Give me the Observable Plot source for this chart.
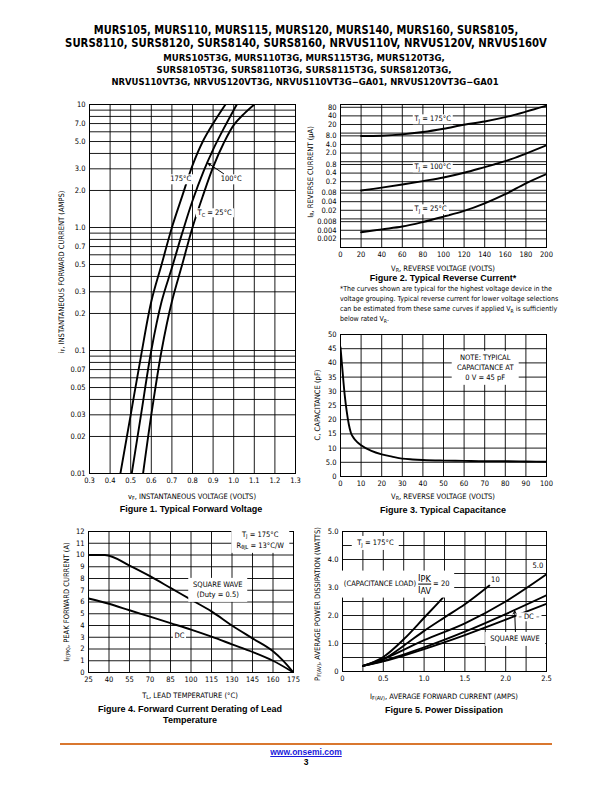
<!DOCTYPE html>
<html><head><meta charset="utf-8">
<script src="https://cdn.jsdelivr.net/npm/d3@7"></script>
<script src="https://cdn.jsdelivr.net/npm/@observablehq/plot@0.6"></script>
<style>
body{margin:0;background:#fff;}
#page{position:relative;width:612px;height:792px;overflow:hidden;background:#fff;color:#000;
 font-family:"DejaVu Sans Condensed","Liberation Sans",sans-serif;}
.abs{position:absolute;white-space:nowrap;}
.hdr1{font-weight:bold;font-size:11.5px;line-height:12px;}
.hdr2{font-weight:bold;font-size:9px;line-height:10px;}
.axl{font-size:7.5px;}
.cap{font-family:"Liberation Sans",Arial,sans-serif;font-weight:bold;font-size:9px;text-align:center;line-height:11px;}
.ann{background:#fff;font-size:7.5px;line-height:1.25;text-align:center;padding:0 2px;}
.box{background:#fff;font-size:7.5px;line-height:1.35;text-align:center;padding:2px 5px;}
.note{font-size:7px;line-height:10px;}
sub{font-size:72%;vertical-align:-0.3em;line-height:0;}
.frac{display:inline-flex;flex-direction:column;vertical-align:middle;text-align:left;font-size:9.5px;line-height:1.15;margin:0 2px;}
.frac span:first-child{border-bottom:1px solid #000;}
.frac sub{font-size:95%;vertical-align:-0.2em;}
.foot{font-family:"Liberation Sans",Arial,sans-serif;font-weight:bold;font-size:8.5px;text-align:center;}
</style></head>
<body><div id="page"></div>
<script>
// ---------- Figure 1: Typical Forward Voltage ----------
const fig1Volt175 = [0.45,0.50,0.55,0.60,0.65,0.70,0.75,0.80,0.85,0.90,0.96];
const fig1Amp175  = [0.01,0.03,0.09,0.25,0.5,1.0,1.8,3.2,5.0,7.0,10];
const fig1Volt100 = [0.505,0.55,0.60,0.65,0.70,0.75,0.80,0.855,0.90,0.95,1.015];
const fig1Amp100  = [0.01,0.03,0.1,0.25,0.47,0.9,1.65,2.9,4.3,6.3,10];
const fig1Volt25  = [0.56,0.60,0.65,0.70,0.75,0.80,0.85,0.90,0.95,1.00,1.05,1.10];
const fig1Amp25   = [0.01,0.03,0.1,0.25,0.5,1.0,1.8,3.1,4.8,6.8,8.4,10];
const fig1XTicks = [0.3,0.4,0.5,0.6,0.7,0.8,0.9,1.0,1.1,1.2,1.3];
const fig1XLabels = ["0.3","0.4","0.5","0.6","0.7","0.8","0.9","1.0","1.1","1.2","1.3"];
const fig1YTicks = [0.01,0.02,0.03,0.05,0.07,0.1,0.2,0.3,0.5,0.7,1,2,3,5,7,10];
const fig1YLabels = ["0.01","0.02","0.03","0.05","0.07","0.1","0.2","0.3","0.5","0.7","1.0","2.0","3.0","5.0","7.0","10"];

// ---------- Figure 2: Typical Reverse Current ----------
const fig2Volt = [20,40,60,80,100,120,140,160,180,200];
const fig2Cur175 = [7.9,8.1,9.0,10.9,14.2,19.5,25.5,36,56,91];
const fig2Cur100 = [0.098,0.124,0.16,0.21,0.28,0.41,0.65,1.04,1.93,3.75];
const fig2Cur25  = [0.0034,0.0043,0.0054,0.0078,0.012,0.019,0.035,0.073,0.175,0.37];
const fig2XTicks = [0,20,40,60,80,100,120,140,160,180,200];
const fig2YTicks = [0.002,0.004,0.008,0.02,0.04,0.08,0.2,0.4,0.8,2,4,8,20,40,80];
const fig2YLabels = ["0.002","0.004","0.008","0.02","0.04","0.08","0.2","0.4","0.8","2.0","4.0","8.0","20","40","80"];

// ---------- Figure 3: Typical Capacitance ----------
const fig3Volt = [0,1,2,3,4,5,6,7,8,10,15,20,25,30,35,40,50,60,70,80,90,100];
const fig3Cap  = [45.5,37,29,23,18.5,15.5,14,13,12.2,11,9,7.8,7,6.3,6,5.8,5.6,5.5,5.4,5.4,5.3,5.2];
const fig3XTicks = [0,10,20,30,40,50,60,70,80,90,100];
const fig3YTicks = [0,5,10,15,20,25,30,35,40,45,50];
const fig3YLabels = ["0","5.0","10","15","20","25","30","35","40","45","50"];

// ---------- Figure 4: Forward Current Derating ----------
const fig4TempSq = [25,37,55,70,85,100,115,130,145,160,167,175];
const fig4Square = [10,10,9.1,8.2,7.2,6.2,5.2,4.0,2.9,1.8,1.05,0];
const fig4TempDC = [25,40,55,70,85,100,115,130,145,160,175];
const fig4DC     = [6.3,5.85,5.3,4.75,4.2,3.65,3.05,2.4,1.75,1.0,0];
const fig4XTicks = [25,40,55,70,85,100,115,130,145,160,175];
const fig4YTicks = [0,1,2,3,4,5,6,7,8,9,10,11,12];

// ---------- Figure 5: Power Dissipation ----------
const fig5Cur20 = [0.25,0.5,0.75,1.0,1.25,1.3];
const fig5Pow20 = [0.2,0.52,1.15,1.92,2.7,2.87];
const fig5Cur10 = [0.25,0.5,0.75,1.0,1.25,1.5,1.8];
const fig5Pow10 = [0.2,0.43,0.92,1.45,1.93,2.4,3.07];
const fig5Cur   = [0.25,0.5,1.0,1.5,2.0,2.5];
const fig5Pow5  = [0.2,0.45,1.12,1.72,2.5,3.47];
const fig5PowSq = [0.2,0.38,0.86,1.42,2.05,2.72];
const fig5PowDC = [0.2,0.36,0.8,1.3,1.85,2.42];
const fig5XTicks = [0,0.5,1.0,1.5,2.0,2.5];
const fig5XLabels = ["0","0.5","1.0","1.5","2.0","2.5"];
const fig5YTicks = [0,1,2,3,4,5];
const fig5YLabels = ["0","1.0","2.0","3.0","4.0","5.0"];

const FONT = '"DejaVu Sans Condensed","Liberation Sans",sans-serif';
const page = document.getElementById("page");

function put(html, cx, cy, cls, rotate) {
  const d = document.createElement("div");
  d.className = "abs " + cls;
  d.innerHTML = html;
  d.style.left = cx + "px"; d.style.top = cy + "px";
  d.style.transform = "translate(-50%,-50%)" + (rotate ? " rotate(-90deg)" : "");
  page.append(d);
  return d;
}
function fit(d, target) {
  const w = d.offsetWidth;
  d.style.transform = `translate(-50%,-50%) scaleX(${target / w})`;
}
const pairs = (xs, ys) => xs.map((x, i) => ({x, y: ys[i]}));
const fmt = (ticks, labels) => { const m = new Map(ticks.map((t, i) => [t, labels[i]])); return d => m.get(d) ?? ""; };
function logGrid(lo, hi, mults) {
  const out = [];
  for (let e = lo; e <= hi; e++) for (const m of mults) out.push(+(m * Math.pow(10, e)).toPrecision(3));
  return out;
}
const GRID = {stroke: "#000", strokeOpacity: 1, strokeWidth: 0.9};
const CURVE = {x: "x", y: "y", stroke: "#000", strokeWidth: 1.9, clip: true};

function chart(frame, xOpt, yOpt, marks) {
  const [L, T, R, B] = frame;
  const mL = 38, mR = 10, mT = 8, mB = 16;
  const svg = Plot.plot({
    width: R - L + mL + mR, height: B - T + mT + mB,
    marginLeft: mL, marginRight: mR, marginTop: mT, marginBottom: mB,
    x: {label: null, ...xOpt}, y: {label: null, ...yOpt},
    style: {fontFamily: FONT, fontSize: "7.5px", background: "none", color: "#000", overflow: "visible"},
    marks
  });
  svg.style.position = "absolute";
  svg.style.left = (L - mL) + "px"; svg.style.top = (T - mT) + "px";
  page.append(svg);
  const sx = svg.scale("x"), sy = svg.scale("y");
  return {px: v => L - mL + sx.apply(v), py: v => T - mT + sy.apply(v)};
}
const axX = (ticks, f) => Plot.axisX({ticks, tickFormat: f, tickSize: 0, tickPadding: 4, fill: "#000"});
const axY = (ticks, f) => Plot.axisY({ticks, tickFormat: f, tickSize: 0, tickPadding: 4, fill: "#000"});
// log-scale tick labels: drawn as text at the frame's left edge through the y scale
const logTicks = (ticks, labels) => Plot.text(ticks, {y: d => d, text: (d, i) => labels[i], frameAnchor: "left", textAnchor: "end", dx: -4, fill: "#000"});

// ---------- Header ----------
fit(put("MURS105, MURS110, MURS115, MURS120, MURS140, MURS160, SURS8105,", 306, 30, "hdr1"), 424);
fit(put("SURS8110, SURS8120, SURS8140, SURS8160, NRVUS110V, NRVUS120V, NRVUS160V", 306, 43, "hdr1"), 482);
fit(put("MURS105T3G, MURS110T3G, MURS115T3G, MURS120T3G,", 304, 58, "hdr2"), 281);
fit(put("SURS8105T3G, SURS8110T3G, SURS8115T3G, SURS8120T3G,", 304, 70, "hdr2"), 295);
fit(put("NRVUS110VT3G, NRVUS120VT3G, NRVUS110VT3G\u2212GA01, NRVUS120VT3G\u2212GA01", 305, 82, "hdr2"), 387);

// ---------- Figure 1 ----------
const c1 = chart([89, 104, 295, 473],
  {type: "linear", domain: [0.3, 1.3]},
  {type: "log", domain: [0.01, 10], axis: null},
  [
    Plot.gridX(fig1XTicks, GRID),
    Plot.gridY(logGrid(-2, 0, [1,2,3,4,5,6,7,8,9]).concat([10]), GRID),
    Plot.frame({stroke: "#000", strokeWidth: 1}),
    Plot.line(pairs(fig1Volt175, fig1Amp175), {...CURVE, curve: "catmull-rom"}),
    Plot.line(pairs(fig1Volt100, fig1Amp100), {...CURVE, curve: "catmull-rom"}),
    Plot.line(pairs(fig1Volt25, fig1Amp25), {...CURVE, curve: "catmull-rom"}),
    axX(fig1XTicks, fmt(fig1XTicks, fig1XLabels)),
    logTicks(fig1YTicks, fig1YLabels)
  ]);
put("175°C", c1.px(0.745), c1.py(2.45), "ann");
put("100°C", c1.px(0.99), c1.py(2.45), "ann");
put("T<sub>C</sub> = 25°C", c1.px(0.91), c1.py(1.3), "ann");
{
  const arrowFrom = [0.955, 2.7], arrowTo = [0.872, 3.35];
  const s = document.createElementNS("http://www.w3.org/2000/svg", "svg");
  s.setAttribute("width", 612); s.setAttribute("height", 792);
  s.style.position = "absolute"; s.style.left = "0"; s.style.top = "0"; s.style.pointerEvents = "none";
  const x1 = c1.px(arrowFrom[0]), y1 = c1.py(arrowFrom[1]), x2 = c1.px(arrowTo[0]), y2 = c1.py(arrowTo[1]);
  const ang = Math.atan2(y2 - y1, x2 - x1), h = 5;
  s.innerHTML = `<line x1="${x1}" y1="${y1}" x2="${x2}" y2="${y2}" stroke="#000" stroke-width="1"/>
    <path d="M${x2},${y2}L${x2 - h*Math.cos(ang - 0.4)},${y2 - h*Math.sin(ang - 0.4)}L${x2 - h*Math.cos(ang + 0.4)},${y2 - h*Math.sin(ang + 0.4)}Z" fill="#000"/>`;
  page.append(s);
}
put("i<sub>F</sub>, INSTANTANEOUS FORWARD CURRENT (AMPS)", 61, 272, "axl", true);
put("v<sub>F</sub>, INSTANTANEOUS VOLTAGE (VOLTS)", 192, 496, "axl");
put("Figure 1. Typical Forward Voltage", 191, 509, "cap");

// ---------- Figure 2 ----------
const c2 = chart([340, 104, 546, 247],
  {type: "linear", domain: [0, 200]},
  {type: "log", domain: [0.001, 100], axis: null},
  [
    Plot.gridX(fig2XTicks, GRID),
    Plot.gridY(logGrid(-3, 1, [1,2,4,8]).concat([100]), GRID),
    Plot.frame({stroke: "#000", strokeWidth: 1}),
    Plot.line(pairs(fig2Volt, fig2Cur175), {...CURVE, curve: "catmull-rom"}),
    Plot.line(pairs(fig2Volt, fig2Cur100), {...CURVE, curve: "catmull-rom"}),
    Plot.line(pairs(fig2Volt, fig2Cur25), {...CURVE, curve: "catmull-rom"}),
    axX(fig2XTicks, d => String(d)),
    logTicks(fig2YTicks, fig2YLabels)
  ]);
put("T<sub>J</sub> = 175°C", c2.px(90), c2.py(29), "ann");
put("T<sub>J</sub> = 100°C", c2.px(90), c2.py(0.61), "ann");
put("T<sub>J</sub> = 25°C", c2.px(88), c2.py(0.021), "ann");
put("I<sub>R</sub>, REVERSE CURRENT (μA)", 310, 172, "axl", true);
put("V<sub>R</sub>, REVERSE VOLTAGE (VOLTS)", 443, 268, "axl");
put("Figure 2. Typical Reverse Current*", 443, 278, "cap");
{
  const n = document.createElement("div");
  n.className = "abs note";
  n.style.left = "340px"; n.style.top = "284px";
  n.innerHTML = "*The curves shown are typical for the highest voltage device in the<br>voltage grouping. Typical reverse current for lower voltage selections<br>can be estimated from these same curves if applied V<sub>R</sub> is sufficiently<br>below rated V<sub>R</sub>.";
  page.append(n);
}

// ---------- Figure 3 ----------
const c3 = chart([340, 334, 546, 476],
  {type: "linear", domain: [0, 100]},
  {type: "linear", domain: [0, 50]},
  [
    Plot.gridX(fig3XTicks, GRID),
    Plot.gridY(fig3YTicks, GRID),
    Plot.frame({stroke: "#000", strokeWidth: 1}),
    Plot.line(pairs(fig3Volt, fig3Cap), {...CURVE, curve: "monotone-x"}),
    axX(fig3XTicks, d => String(d)),
    axY(fig3YTicks, fmt(fig3YTicks, fig3YLabels))
  ]);
put("NOTE: TYPICAL<br>CAPACITANCE AT<br>0 V = 45 pF", c3.px(70.5), c3.py(38), "box");
put("C, CAPACITANCE (pF)", 317, 405, "axl", true);
put("V<sub>R</sub>, REVERSE VOLTAGE (VOLTS)", 443, 496, "axl");
put("Figure 3. Typical Capacitance", 443, 510, "cap");

// ---------- Figure 4 ----------
const c4 = chart([88, 531, 293, 672],
  {type: "linear", domain: [25, 175]},
  {type: "linear", domain: [0, 12]},
  [
    Plot.gridX(fig4XTicks, GRID),
    Plot.gridY(fig4YTicks, GRID),
    Plot.frame({stroke: "#000", strokeWidth: 1}),
    Plot.line(pairs(fig4TempSq, fig4Square), {...CURVE, curve: "monotone-x"}),
    Plot.line(pairs(fig4TempDC, fig4DC), {...CURVE, curve: "monotone-x"}),
    axX(fig4XTicks, d => String(d)),
    axY(fig4YTicks, d => String(d))
  ]);
put("T<sub>J</sub> = 175°C<br>R<sub>θJL</sub> = 13°C/W", c4.px(151), c4.py(11.2), "box");
put("SQUARE WAVE<br>(Duty = 0.5)", c4.px(120), c4.py(7.0), "box");
put("DC", c4.px(92), c4.py(3.05), "ann");
put("I<sub>F(PK)</sub>, PEAK FORWARD CURRENT (A)", 66, 602, "axl", true);
put("T<sub>L</sub>, LEAD TEMPERATURE (°C)", 190, 695, "axl");
put("Figure 4. Forward Current Derating of Lead<br>Temperature", 190, 715, "cap");

// ---------- Figure 5 ----------
const c5 = chart([342, 531, 546, 671],
  {type: "linear", domain: [0, 2.5]},
  {type: "linear", domain: [0, 5]},
  [
    Plot.gridX([0,0.25,0.5,0.75,1,1.25,1.5,1.75,2,2.25,2.5], GRID),
    Plot.gridY([0,0.5,1,1.5,2,2.5,3,3.5,4,4.5,5], GRID),
    Plot.frame({stroke: "#000", strokeWidth: 1}),
    Plot.line(pairs(fig5Cur20, fig5Pow20), {...CURVE, curve: "monotone-x"}),
    Plot.line(pairs(fig5Cur10, fig5Pow10), {...CURVE, curve: "monotone-x"}),
    Plot.line(pairs(fig5Cur, fig5Pow5), {...CURVE, curve: "monotone-x"}),
    Plot.line(pairs(fig5Cur, fig5PowSq), {...CURVE, curve: "monotone-x"}),
    Plot.line(pairs(fig5Cur, fig5PowDC), {...CURVE, curve: "monotone-x"}),
    Plot.arrow([{x1: 2.12, y1: 1.35, x2: 2.11, y2: 2.16}], {x1: "x1", y1: "y1", x2: "x2", y2: "y2", stroke: "#000", strokeWidth: 1, headLength: 5}),
    axX(fig5XTicks, fmt(fig5XTicks, fig5XLabels)),
    axY(fig5YTicks, fmt(fig5YTicks, fig5YLabels))
  ]);
put("T<sub>J</sub> = 175°C", c5.px(0.41), c5.py(4.57), "box");
put("(CAPACITANCE LOAD)<span class='frac'><span>I<sub>PK</sub></span><span>I<sub>AV</sub></span></span>= 20", c5.px(0.67), c5.py(3.1), "box");
put("10", c5.px(1.88), c5.py(3.26), "ann");
put("5.0", c5.px(2.4), c5.py(3.76), "ann");
put("\u2013 DC \u2013", c5.px(2.29), c5.py(1.93), "ann");
put("SQUARE WAVE", c5.px(2.12), c5.py(1.16), "box");
put("P<sub>F(AV)</sub>, AVERAGE POWER DISSIPATION (WATTS)", 317, 604, "axl", true);
put("I<sub>F(AV)</sub>, AVERAGE FORWARD CURRENT (AMPS)", 444, 696, "axl");
put("Figure 5. Power Dissipation", 444, 710, "cap");

// ---------- Footer ----------
{
  const l = document.createElement("div");
  l.className = "abs";
  l.style.cssText = "left:60px;top:743px;width:492px;height:2px;background:#d9772f;";
  page.append(l);
}
put("<span style='color:#1a1adb;text-decoration:underline'>www.onsemi.com</span>", 306, 752, "foot");
put("3", 306, 762, "foot");
</script></body></html>
